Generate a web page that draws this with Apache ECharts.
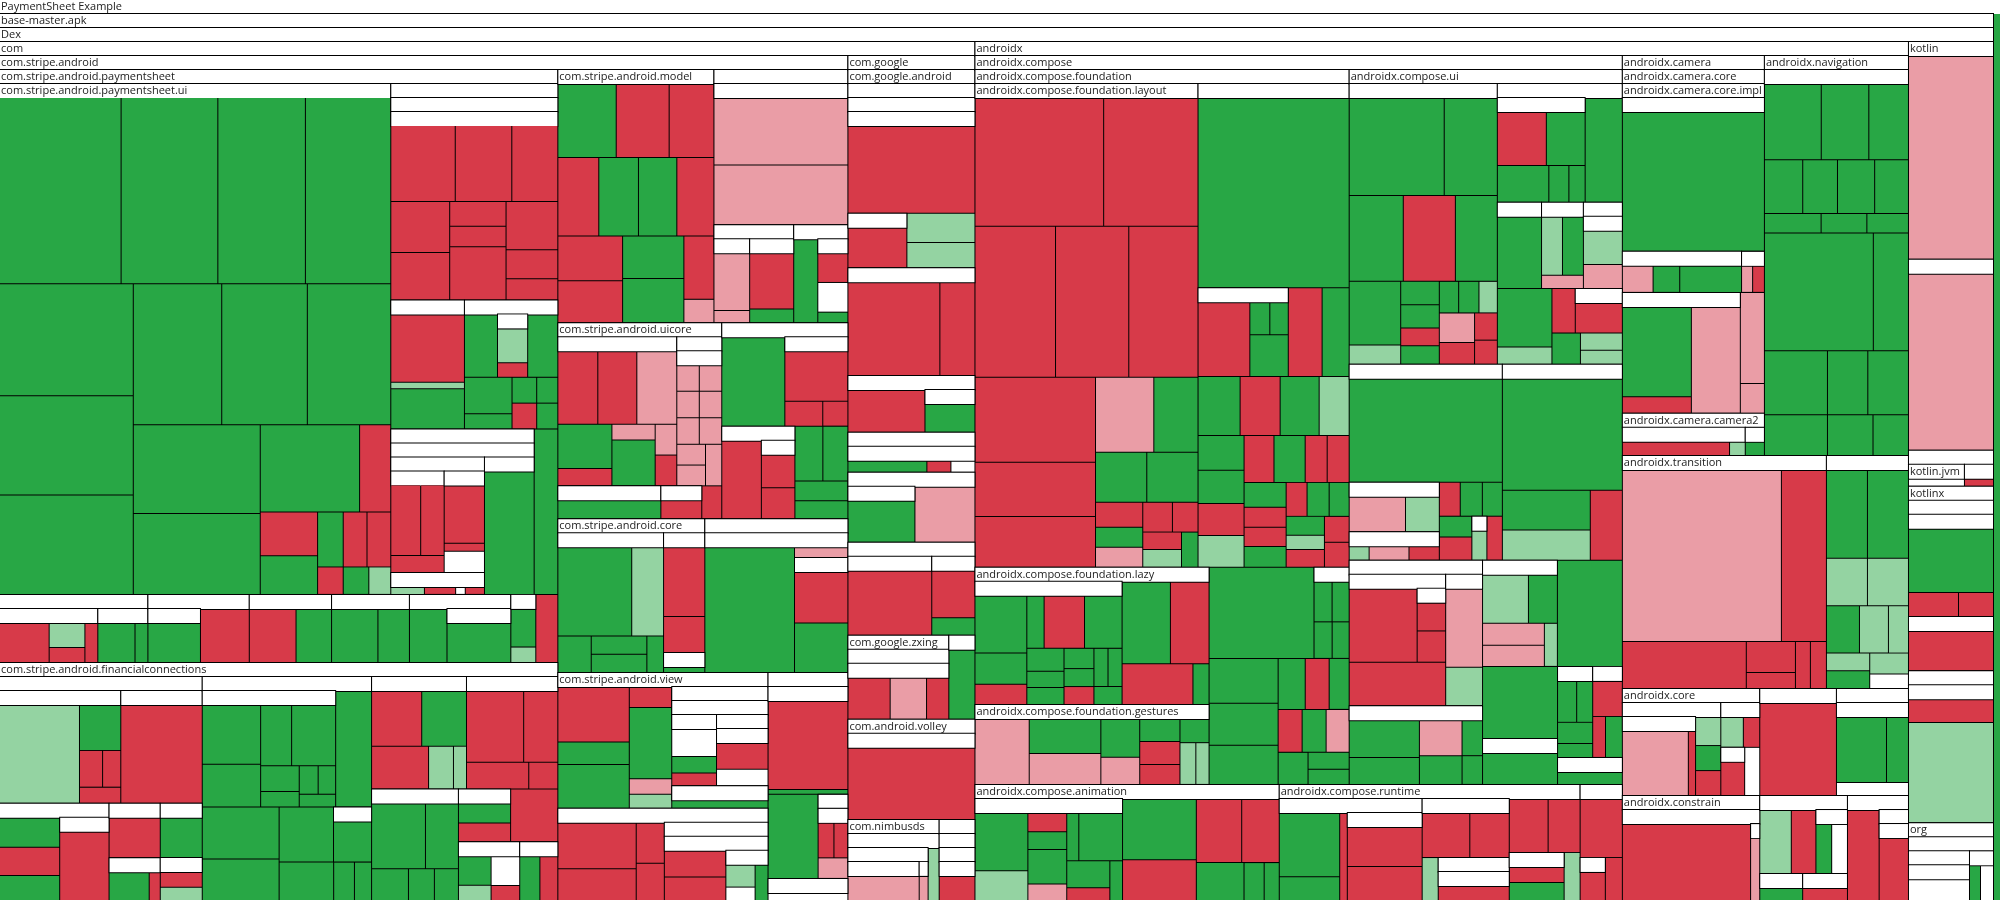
<!DOCTYPE html>
<html><head><meta charset="utf-8">
<script src="https://cdn.jsdelivr.net/npm/echarts/dist/echarts.min.js"></script>
<style>html,body{margin:0;padding:0;background:#fff}#c{width:2000px;height:900px}</style>
</head><body><div id="c"></div><script>
// colour keys: g = green, r = red, p = light red, l = light green, w = white
// leaf: [value, colourKey]; package: [name, value, children]
const psUi = [[225,'g'],[179,'g'],[162,'g'],[158,'g'],[149,'g'],[132,'g'],[132,'g'],[124,'g'],[120,'g'],[117,'g'],[112,'g'],[102,'g'],[86,'g'],[27,'r'],[25,'r'],[22,'g'],[14,'g'],[13,'r'],[13,'r'],[7,'r'],[7,'g'],[6,'l']];
const psOther = [
 ['',345,[['',314,[[49,'r'],[43,'r'],[35,'r'],[30,'r'],[28,'r'],[14,'r'],[11.5,'r'],[30,'r'],[25,'r'],[15,'r'],[11,'r']]]]],
 ['',97,[[51,'r'],[5,'l'],[30,'g']]],
 ['',123,[[23,'g'],['',21,[[12,'l'],[5,'r']]],[21,'g'],[19,'g'],[8,'g'],[7,'g'],[6,'g'],[7,'r'],[6,'g']]],
 ['',242,[['',222,[['',111,[['',53,[[14,'r'],[11,'r'],[6,'r']]],['',40,[[22,'r'],[3,'r'],[8,'w']]]]],['',21,[[7,'l'],[6.5,'r'],[2,'w'],[4,'r']]],['',70,[[52,'g']]]]]]],
 [40,'g']
];
const psRow = [
 ['',101,[['',53,[[20,'r'],[9,'l'],[5.4,'r'],[5.2,'r']]],['',27,[[15,'g'],[5.2,'g']]]]],
 ['',69,[['',28,[[21,'g']]],[26,'r']]],
 ['',56,[[25,'r'],[19,'g']]],
 ['',53,[[25,'g'],[17,'g']]],
 ['',69,[[20,'g'],['',34,[[20,'g']]]]],
 ['',17,[[10,'g'],[4,'l']]],
 [15,'r']
];
const fcCells = [
 ['',455,[
   ['',137,[[79,'l'],[19,'g'],[8.5,'r'],[6.7,'r'],[6.6,'r']]],
   ['',92,[[80,'r']]],
   ['',107,[[18,'g'],[17,'r'],[15,'g'],['',41,[[26,'r']]]]],
   ['',50,[[21,'r'],['',22,[[11.6,'g'],[3.2,'r']]]]],
   ['',41,[[17,'g'],['',18,[[6,'r'],[5,'l']]]]]]],
 ['',380,[
   ['',156,[[35,'g'],[25,'g'],[19,'g'],[27,'g'],[10,'g'],[6,'g'],[5.4,'g'],[5,'g'],[4.7,'g']]],
   [42,'g'],[40,'g'],[32,'g'],[30,'g'],['',21,[[15.6,'g']]],[21,'g'],[8,'g'],[6.6,'g']]],
 ['',107,[[28,'r'],[25,'g'],[24.5,'r'],[10.7,'l'],[5.6,'l']]],
 ['',103,[[41,'r'],[24.5,'r'],[16.7,'r'],[7.8,'r']]],
 ['',97,[[35.6,'g'],[21.8,'g'],[11.8,'g'],[8.3,'g'],[7.7,'g']]],
 ['',27.6,[[10.4,'g'],[9.9,'r']]],
 [25,'r'],
 ['',36,[[9.6,'g'],[5,'l'],[8.5,'w'],[4.3,'r']]],
 ['',22.4,[[9,'g'],[8,'r']]]
];
const modelCells = [[43,'g'],[39,'r'],[33,'r'],[32,'r'],[31,'g'],[30,'g'],[29,'r'],[29,'r'],[27,'r'],[26,'g'],[27,'g'],[19,'r'],[7,'p']];
const modelSib = [
 ['',189,[[90,'p'],[80,'p']]],
 ['',78,[['',30,[[16,'p'],[3.4,'p']]],['',37,[[20.5,'r'],[5,'g']]]]],
 ['',53,[[20,'g'],['',25,[[7.6,'r'],[7.6,'w'],[2.7,'g']]]]]
];
const uicoreCells = [
 ['',178.5,[[29.6,'r'],[28.9,'r'],[29.6,'p'],[24,'g'],[9.5,'r'],[6.8,'p'],[20,'g'],[6.7,'p'],[6.7,'r']]],
 ['',67.5,[['',61,[[6,'p'],[6,'p'],[6,'p'],[6,'p'],[6,'p'],[6,'p'],[6,'p'],[6,'p'],[6.8,'p']]]]],
 ['',34,[[19.6,'g']]],
 ['',13.5,[[7.8,'r']]],
 [6.6,'r']
];
const uicoreSib = [
 [56.7,'g'],
 ['',56.7,[[32,'r'],[9.5,'r'],[6.3,'r']]],
 ['',68,[[30.7,'r'],['',26,[[8.4,'r'],[7.7,'r']]]]],
 [15.4,'g'],[13.8,'g'],[10.6,'g'],[9.5,'g']
];
const coreCells = [
 ['',146,[[65,'g'],[28,'l'],[12,'g'],[10,'g'],[10,'g'],[6,'g']]],
 ['',57,[[28,'r'],[14.4,'r'],['',8,[[2.5,'g']]]]]
];
const coreSib = [['',200,[[113,'g'],[5.8,'p'],['',61.5,[[19.7,'r'],[18.9,'g']]]]]];
const viewCells = [
 [42,'r'],[17,'g'],[33,'g'],[9.5,'r'],[32,'g'],[7,'p'],[6.2,'l'],
 ['',124,[['',87,[['',30,[[12,'w'],[7,'g']]],[6.5,'r'],['',42,[['',20,[[10,'r']]],[8,'w']]]]],['',23,[[16,'g']]]]]
];
const viewSib = [
 ['',194,[[40.5,'r'],[27.5,'r'],[12.8,'r'],[11.6,'r'],['',90,[['',78,[[21,'r'],[18.4,'r'],['',27,[[7.7,'l'],[4.5,'w'],[5.4,'g']]]]]]]]],
 ['',182,[['',86,[[73,'r'],[4,'g']]],[42,'g'],['',25,[['',13,[[6,'r'],[5.3,'r']]],[5.4,'p']]],['',17.6,[[8,'w']]]]]
];
const googleAndroid = [
 ['',234,[['',216,[['',198,[[115,'r'],['',33,[[25,'r']]],[20.4,'l'],[17.7,'l']]]]]]],
 ['',260,[[86.5,'r'],[33,'r'],['',72,[[37,'r'],['',24,[[20,'g']]]]],['',51,[['',44,[[23,'g'],[7,'r'],[7,'w']]]]]]],
 ['',207,[['',37.5,[[28,'g']]],[33.6,'p'],['',118,[['',66,[[54,'r']]],['',34,[[20,'r'],[7.3,'g']]]]]]]
];
const googleZxing = [['',72,[['',57.6,[[18,'r'],[15.5,'p'],[9.5,'r']]]]]];
const googleOther = [[18,'g']];
const volleyCells = [['',109,[[91,'r']]]];
const nimbusCells = [['',61,[['',42,[['',28,[[18,'p']]],['',3.5,[[2.5,'p']]]]],[5.8,'l']]]];
const nimbusSib = [['',24,[['',19,[['',14,[[9,'r']]]]]]]];
const layoutCells = [[165,'r'],[121,'r'],[121,'r'],[110,'r'],[104,'r'],[102,'r'],[65,'r'],[61,'r'],[43.5,'p'],[33,'g'],[25.5,'g'],[25.5,'g'],[11.8,'r'],[9.4,'g'],[9.4,'p'],[8.8,'r'],[7.6,'r'],[6.7,'r'],[6.9,'l'],[5.8,'g']];
const foundationOther = [
 [287,'g'],['',80,[[38.7,'r'],[6.6,'g'],[6.1,'g'],[16,'g']]],[30,'r'],[24,'g'],
 [24.8,'g'],[23.6,'r'],[23,'g'],[17.7,'l'],[16,'g'],[15.2,'g'],[14.7,'r'],[14.7,'l'],
 [14,'r'],[14.6,'g'],[10.3,'r'],[10.3,'r'],[10.5,'g'],[8.4,'r'],[8,'r'],[8.8,'g'],
 [7.1,'r'],[7.5,'g'],[6.8,'g'],[7.2,'g'],[5.5,'l'],[6.8,'r'],[6.4,'r'],[6.2,'r']
];
const lazyCells = [
 ['',182,[[30,'g'],[16.3,'g'],[10.6,'r'],[9.2,'g'],[21.5,'r'],[20,'g'],[8.6,'g'],[6,'g'],[6.4,'g'],[6.1,'g'],[5.4,'g'],[5.4,'r'],[5.4,'g'],[5.4,'g'],[5.1,'g']]],
 [40,'g'],[32,'r'],[29,'r'],[6.6,'g']
];
const gesturesCells = [[35.6,'p'],[25,'g'],[22,'p'],[15,'g'],[10.5,'p'],[9.2,'g'],[9.2,'r'],[8,'r'],[7,'g'],[6.6,'l'],[5.5,'l']];
const foundationTail = [[95.5,'g'],['',32,[[7.4,'g'],[7,'g'],[6.7,'g'],[6.3,'g']]],[31,'g'],[29,'g'],[27,'g'],[13.8,'g'],[12.2,'r'],[10.2,'g'],[10.3,'r'],[10.3,'g'],[9.9,'p'],[9.6,'g'],[7,'g'],[6.2,'g']];
const uiCells1 = [[93,'g'],[52,'g'],[46.4,'g'],[44.7,'r'],[36,'g'],[32.8,'g'],[9.9,'l'],[9,'g'],[9,'g'],[6.8,'r'],[7.2,'g'],[6.1,'g'],[6.4,'g'],[5.8,'l'],[10.4,'p'],[7.7,'r'],[6.2,'r'],[5.5,'r']];
const uiCells2 = [
 ['',92,[[26.5,'r'],[21,'g'],[19,'g'],[7.4,'g'],[6,'g']]],[39,'g'],
 ['',38,[[32,'g']]],['',36,[[12.4,'l'],[12.4,'g'],[5.5,'p']]],['',33.5,[['',28,[[13.3,'l'],[9.4,'p']]]]],
 [32,'g'],[9.4,'l'],[10.4,'r'],['',21,[[11.2,'r']]],[8.9,'g'],[7.2,'l'],[5.9,'l']
];
const uiCells3 = [[159,'g'],['',44.5,[[22.8,'p'],[13.7,'l']]],['',25.7,[[4.6,'l'],[9.2,'p'],[7,'r']]],[7.1,'r'],[7.5,'g'],[6.8,'g'],[6.8,'g'],[7.5,'r'],['',6.6,[[4.4,'l']]],[6.8,'r']];
const uiCells4 = [[134,'g'],[35,'g'],[26.4,'l'],[22.4,'r']];
const uiCells5 = [['',85,[[50,'r'],['',21,[[8,'r'],[8.7,'r']]]]],[42,'r'],['',48.5,[[23,'p'],[11.2,'l']]]];
const uiCells6 = [[22.5,'l'],[14.2,'g'],[13.6,'p'],[13,'p'],[5.6,'l']];
const uiCells7 = [[26.6,'g'],[19,'g'],[15.4,'p'],[7.4,'g'],[12.3,'g'],[5.9,'g']];
const uiTail = [[69,'g'],[54,'g'],['',34.5,[[24,'g']]],['',32,[[8,'g'],[6.7,'g'],[7.4,'g'],[4.9,'g']]],['',27,[[10.8,'r'],[5.3,'r'],[7,'g']]],['',17.5,[[8.5,'g']]]];
const animCells = [
 ['',150,[[30.7,'g'],[15.6,'l'],[7.5,'r'],[6.8,'g'],[13.3,'g'],[6.4,'p'],[5.8,'g'],[21,'g'],[11.5,'g'],[5.5,'r'],[5,'g']]],
 [45,'g'],[30,'r'],[29,'r'],[24,'r'],[18,'g'],[7.6,'g'],[5.7,'g']
];
const runtimeCells = [
 ['',146,[[39,'g'],[14.3,'g'],[6.7,'r'],['',66,[[24.6,'r'],[21,'r']]]]],
 ['',89,[[21.5,'r'],[17.8,'r'],[6.9,'l'],['',30.5,[['',18,[[6,'r']]]]]]],
 [21,'r'],[17.3,'r'],['',26.4,[[8.8,'r'],[9.9,'g']]],[7.7,'l']
];
const runtimeSib = [[24.8,'r'],['',10.8,[[7.2,'r']]],[7.3,'r']];
const cameraCore = [
 ['androidx.camera.core.impl',239,[['',219,[[199,'g']]]]],
 ['',49,[[8.3,'p'],[7.2,'g'],[16.7,'g']]],['',9.4,[[3,'p'],[3.2,'r']]],
 ['',143,[[62,'g'],[11.3,'r'],[52,'p']]],[22,'p'],[7.2,'p']
];
const camera2 = [['',34,[[15,'r'],[2.2,'l']]],['',5.3,[[2.7,'g']]]];
const navCells = [['',536,[[43,'g'],[36,'g'],[30,'g'],[20.4,'g'],[18.5,'g'],[19.8,'g'],[18,'g'],[10.9,'g'],[8.8,'g'],[8,'g'],[127,'g'],[41,'g'],[40,'g'],[25.6,'g'],[25.6,'g'],[25.8,'g'],[18.5,'g'],[14.4,'g']]]];
const transitionCells = [[272,'p'],[77,'r'],[58,'r'],[15.2,'r'],[7.8,'r'],[7,'r'],[7.5,'r']];
const transitionSib = [[36,'g'],[36,'g'],[19.3,'l'],[19.3,'l'],[15.5,'g'],[13.6,'l'],[9.4,'l'],[7.6,'l'],[7.6,'g'],[8,'l'],[5.6,'w']];
const axCoreCells = [['',91,[['',57.7,[[42,'p'],[4.6,'r']]],[7.3,'l'],[6.3,'g'],[6.3,'r']]],['',36,[[5.9,'l'],[4.3,'r'],['',9.8,[[3.5,'r']]],[6.2,'w']]]];
const constrainCells = [['',125,[[98,'r'],['',7,[[5.7,'p']]]]]];
const axMisc1 = [[68.5,'r']];
const axMisc2 = [['',67,[[33,'g'],[14.5,'g'],[9.4,'w']]]];
const axMisc4 = [[20,'l'],[15.6,'r'],['',20,[[5.6,'g'],[5.6,'w']]],['',11.5,[[4,'g']]],['',12,[[3.4,'r']]]];
const axMisc3 = [[27,'r'],['',25,[['',16.5,[[6,'r']]]]]];
const kotlinCells = [[173,'p'],['',162,[[150,'p']]],['',30.6,[['kotlin.jvm',12.9,[[6.7,'w']]],['',6.7,[[3.5,'r']]]]]];
const kotlinxCells = [['',144.5,[['',86.7,[[54.4,'g'],[12,'r'],[8.4,'r']]],['',45.9,[[34,'r']]]]],['',129,[['',34,[[22,'r']]],[90,'l']]]];
const orgCells = [['',54,[['',30.5,[['',17,[[13,'w']]]]],['',12,[[3.4,'g'],[4,'w']]]]]];

const COLORS = {g:'#28a745', r:'#d73a49', p:'#ea9da6', l:'#94d3a2', w:'#ffffff'};
function P(name, value, children){ return [name, value, children]; }
const stripe = P('com.stripe.android',7166,[
  P('com.stripe.android.paymentsheet',3309,[P('com.stripe.android.paymentsheet.ui',1998,psUi), P('',853,psOther), ...psRow]),
  P('com.stripe.android.financialconnections',1328,fcCells),
  P('com.stripe.android.model',395,modelCells), P('',339,modelSib),
  P('com.stripe.android.uicore',321,uicoreCells), P('',247,uicoreSib),
  P('com.stripe.android.core',226,coreCells), P('',220,coreSib),
  P('com.stripe.android.view',285,viewCells), ...viewSib
]);
const comPkg = P('com',8375,[
  stripe,
  P('com.google',843,[P('com.google.android',719,googleAndroid),P('com.google.zxing',85,googleZxing),P('',22,googleOther)]),
  P('com.android.volley',127,volleyCells), P('com.nimbusds',74,nimbusCells), P('',29,nimbusSib)
]);
const composePkg = P('androidx.compose',5467,[
  P('androidx.compose.foundation',2674,[P('androidx.compose.foundation.layout',1079,layoutCells),P('',731,foundationOther),
     P('androidx.compose.foundation.lazy',321,lazyCells),P('androidx.compose.foundation.gestures',187,gesturesCells),...foundationTail]),
  P('androidx.compose.ui',1952,[P('',416,uiCells1),P('',351,uiCells2),P('',300,uiCells3),P('',235,uiCells4),P('',194,uiCells5),P('',105,uiCells7),P('',79.5,uiCells6),...uiTail]),
  P('androidx.compose.animation',353,animCells), P('androidx.compose.runtime',349,runtimeCells), P('',49,runtimeSib)
]);
const androidxPkg = P('androidx',8015,[
  composePkg,
  P('androidx.camera',568,[P('androidx.camera.core',488,cameraCore),P('androidx.camera.camera2',60,camera2)]),
  P('androidx.navigation',576,navCells),
  P('androidx.transition',475,transitionCells), P('',191,transitionSib),
  P('androidx.core',147,axCoreCells), P('androidx.constrain',144,constrainCells),
  P('',82,axMisc1), P('',77,axMisc2), P('',92,axMisc4), P('',64,axMisc3)
]);
const tree = P('PaymentSheet Example',17720,[
  P('base-master.apk',17658,[P('Dex',17658,[comPkg, androidxPkg, P('kotlin',378,kotlinCells), P('kotlinx',286,kotlinxCells), P('org',66,orgCells)])]),
  [62,'g']
]);

function build(item){
  if (typeof item[0] === 'number') return {name:'', value:item[0], itemStyle:{color:COLORS[item[1]]}};
  return {name: item[0] === '' ? ' ' : item[0], value:item[1], children:item[2].map(build)};
}

const chart = echarts.init(document.getElementById('c'), null, {renderer:'canvas'});
chart.setOption({
  animation:false,
  series:[{
    type:'treemap', left:0, top:0, width:2000, height:900,
    roam:false, nodeClick:false, sort:false, visibleMin:0,
    breadcrumb:{show:false},
    label:{show:false},
    upperLabel:{show:true, height:14, color:'#222', fontSize:11, fontFamily:'Open Sans',
      backgroundColor:'#fff', borderColor:'#000', borderWidth:1, padding:[0,0,0,1],
      overflow:'truncate', ellipsis:''},
    itemStyle:{borderWidth:0, gapWidth:1, borderColor:'#000'},
    emphasis:{disabled:true},
    levels:[{upperLabel:{show:false}, itemStyle:{borderWidth:0, gapWidth:1, borderColor:'#000'}}],
    data:[build(tree)]
  }]
});
</script></body></html>
